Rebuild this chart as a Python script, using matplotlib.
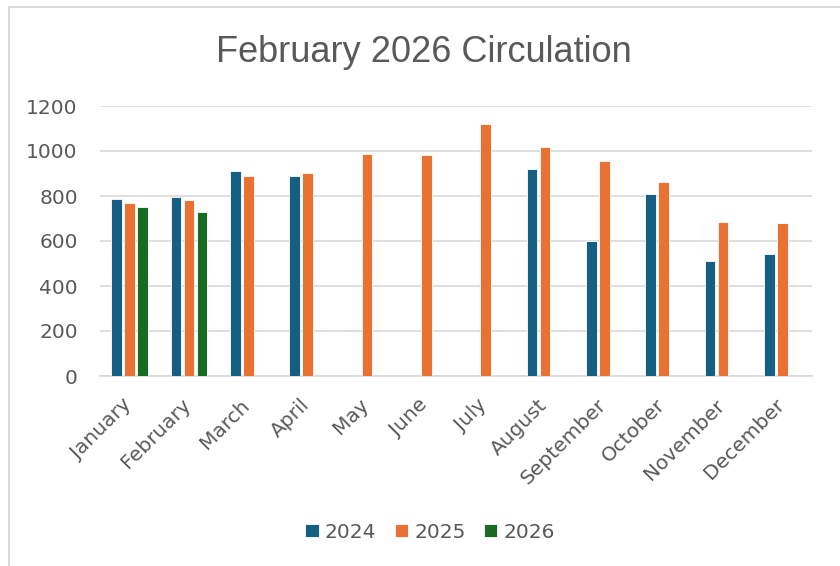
import numpy as np
import matplotlib
matplotlib.use("Agg")
import matplotlib.pyplot as plt
from matplotlib.patches import Rectangle
from matplotlib.transforms import ScaledTranslation

months = ["January", "February", "March", "April", "May", "June", "July",
          "August", "September", "October", "November", "December"]
series_names = ["2024", "2025", "2026"]
v2024 = [788, 795, 911, 887, np.nan, np.nan, np.nan, 918, 599, 811, 513, 543]
v2025 = [767, 782, 888, 903, 988, 982, 1118, 1016, 955, 862, 685, 682]
v2026 = [749, 727, np.nan, np.nan, np.nan, np.nan, np.nan, np.nan, np.nan, np.nan, np.nan, np.nan]
colors = ["#156082", "#E97132", "#196B24"]
yticks = [0, 200, 400, 600, 800, 1000, 1200]

W, H = 840, 566
fig = plt.figure(figsize=(W / 100, H / 100), dpi=100)
fig.patch.set_facecolor("white")

# chart frame
fig.patches.append(Rectangle((9 / W, -0.1), 1.2, 1 - 7 / H + 0.1, transform=fig.transFigure,
                             fill=False, edgecolor="#D9D9D9", linewidth=1.5))

ax = fig.add_axes([100 / W, (H - 376) / H, 712 / W, 270 / H])
x = np.arange(len(months))
bw = 0.178
step = 0.219
for i, (vals, name) in enumerate(zip([v2024, v2025, v2026], series_names)):
    ax.bar(x + (i - 1) * step, vals, width=bw, color=colors[i], label=name,
           edgecolor="white", linewidth=0.6, zorder=3)

ax.set_xlim(-0.5, len(months) - 0.5)
ax.set_ylim(0, 1200)
ax.set_yticks(yticks)
ax.set_yticklabels([str(t) for t in yticks])
ax.grid(axis="y", color="#D9D9D9", linewidth=1.2, zorder=0)
for s in ["top", "right", "left"]:
    ax.spines[s].set_visible(False)
ax.spines["bottom"].set_color("#D9D9D9")
ax.spines["bottom"].set_linewidth(1.2)
ax.tick_params(axis="both", length=0, colors="#595959", labelsize=14.5)
ax.tick_params(axis="y", pad=16)
ax.set_xticks(x)
ax.set_xticklabels(months, rotation=45, ha="right", va="top", rotation_mode="anchor",
                   fontsize=14.5, color="#595959")
ax.tick_params(axis="x", pad=14)
for lbl in ax.get_xticklabels():
    lbl.set_transform(lbl.get_transform() + ScaledTranslation(-8 / 100, 0, fig.dpi_scale_trans))

fig.text(424 / W, 1 - 52 / H, "February 2026 Circulation", ha="center", va="center",
         fontsize=26, color="#595959", family=["Liberation Sans", "DejaVu Sans"])

leg = fig.legend(loc="center", bbox_to_anchor=(430 / W, 1 - 532 / H), ncol=3, frameon=False,
                 handlelength=0.68, handleheight=0.68, handletextpad=0.3,
                 columnspacing=0.9, prop={"family": ["DejaVu Sans"], "size": 14.5})
for t in leg.get_texts():
    t.set_color("#595959")

fig.savefig("out.png", dpi=100)
